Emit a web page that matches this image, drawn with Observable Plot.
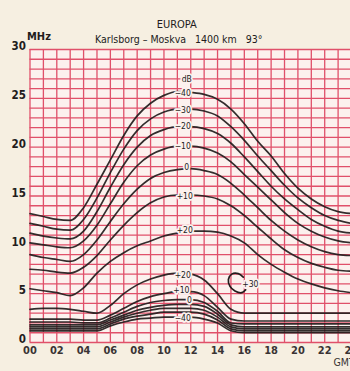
<!DOCTYPE html>
<html>
<head>
<meta charset="utf-8">
<script src="https://cdn.jsdelivr.net/npm/d3@7"></script>
<script src="https://cdn.jsdelivr.net/npm/@observablehq/plot@0.6"></script>
<style>
  html, body { margin: 0; padding: 0; background: #f6efe1; }
  #chart svg { display: block; }
</style>
</head>
<body>
<div id="chart"></div>
<script>
// Hours (GMT)
const hours = [0,1,2,3,4,5,6,7,8,9,10,11,12,13,14,15,16,17,18,19,20,21,22,23,24];

// Upper family (dB labels)
const m40 = [13.2,12.9,12.6,12.5,13.8,16.2,18.7,21.2,23.2,24.5,25.3,25.7,25.6,25.4,24.9,23.9,22.4,20.6,19.1,17.3,15.8,14.7,13.9,13.4,13.2];
const m30 = [12.2,11.9,11.6,11.5,12.6,14.8,17.4,19.8,21.7,22.9,23.6,23.9,23.9,23.7,23.2,22.1,20.7,19.1,17.6,16.1,14.8,13.8,13.0,12.5,12.2];
const m20 = [11.2,10.9,10.7,10.6,11.4,13.4,15.9,18.2,20.0,21.2,21.8,22.1,22.1,21.9,21.4,20.4,19.0,17.5,16.0,14.7,13.6,12.6,11.9,11.4,11.2];
const m10 = [10.2,10.0,9.8,9.7,10.4,12.0,14.2,16.4,18.1,19.2,19.8,20.1,20.1,19.9,19.4,18.5,17.2,15.9,14.6,13.3,12.2,11.4,10.8,10.4,10.2];
const z0  = [9.0,8.7,8.5,8.3,9.0,10.5,12.4,14.2,15.7,16.8,17.4,17.7,17.8,17.6,17.2,16.3,15.1,13.8,12.5,11.4,10.5,9.8,9.3,9.0,8.9];
const p10 = [7.5,7.4,7.2,7.1,7.7,8.9,10.5,12.0,13.3,14.3,14.9,15.1,15.1,15.0,14.7,14.0,13.0,11.8,10.6,9.5,8.7,8.1,7.7,7.4,7.3];
const p20 = [5.5,5.3,5.1,4.8,5.6,7.1,8.3,9.2,9.9,10.4,10.9,11.2,11.4,11.4,11.3,10.9,10.2,9.0,8.0,7.2,6.5,6.0,5.6,5.3,5.1];

// Lower family
const p20L = [3.4,3.5,3.5,3.4,3.2,3.0,3.8,5.0,5.9,6.5,6.9,7.1,7.0,6.4,5.0,3.4,3.0,3.0,3.0,3.0,3.0,3.0,3.0,3.0,3.0];
const p10L = [2.4,2.4,2.4,2.4,2.3,2.3,2.8,3.5,4.2,4.7,5.0,5.2,5.2,4.8,3.6,2.4,2.2,2.2,2.2,2.2,2.2,2.2,2.2,2.2,2.2];
const z0L  = [2.1,2.1,2.1,2.1,2.0,2.0,2.5,3.1,3.7,4.1,4.3,4.4,4.4,4.1,3.2,2.0,1.9,1.9,1.9,1.9,1.9,1.9,1.9,1.9,1.9];
const m10L = [1.8,1.8,1.8,1.8,1.8,1.8,2.3,2.8,3.3,3.6,3.8,3.9,3.9,3.7,2.9,1.8,1.6,1.6,1.6,1.6,1.6,1.6,1.6,1.6,1.6];
const m20L = [1.6,1.6,1.6,1.6,1.6,1.6,2.1,2.6,3.0,3.3,3.5,3.5,3.5,3.3,2.6,1.6,1.4,1.4,1.4,1.4,1.4,1.4,1.4,1.4,1.4];
const m30L = [1.4,1.4,1.4,1.4,1.4,1.4,1.9,2.4,2.7,2.9,3.1,3.1,3.1,2.9,2.3,1.4,1.2,1.2,1.2,1.2,1.2,1.2,1.2,1.2,1.2];
const m40L = [1.2,1.2,1.2,1.2,1.2,1.2,1.7,2.1,2.4,2.5,2.6,2.6,2.6,2.4,2.0,1.2,1.0,1.0,1.0,1.0,1.0,1.0,1.0,1.0,1.0];

// +30 dB contour
const loopH = [15.92,15.55,15.06,14.81,14.93,15.30,15.80,16.10];
const loopF = [6.70,7.05,7.00,6.45,5.75,5.28,5.10,5.40];

// Curve labels
const labelText = ["dB","\u221240","\u221230","\u221220","\u221210","0","+10","+20","+20","+10","0","\u221240","+30"];
const labelH    = [11.7,11.4,11.4,11.4,11.4,11.7,11.55,11.55,11.4,11.3,11.9,11.4,16.45];
const labelF    = [27.0,25.5,23.8,22.1,20.1,17.9,15.0,11.5,6.9,5.35,4.3,2.45,6.0];

// Axis ticks and grid
const xTicks = [0,2,4,6,8,10,12,14,16,18,20,22,24];
const yTicks = [0,5,10,15,20,25,30];
const gridH = hours;
const gridF = [0,1,2,3,4,5,6,7,8,9,10,11,12,13,14,15,16,17,18,19,20,21,22,23,24,25,26,27,28,29,30];

const title = "EUROPA";
const subtitle = "Karlsborg \u2013 Moskva   1400 km   93\u00b0";

const series = [
  ["m40", m40], ["m30", m30], ["m20", m20], ["m10", m10], ["z0", z0], ["p10", p10], ["p20", p20],
  ["p20L", p20L], ["p10L", p10L], ["z0L", z0L], ["m10L", m10L], ["m20L", m20L], ["m30L", m30L], ["m40L", m40L]
];
const lines = series.flatMap(([id, vals]) => vals.map((f, i) => ({id, h: hours[i], f})));
const loop = loopH.map((h, i) => ({h, f: loopF[i]}));
const labels = labelText.map((t, i) => ({t, h: labelH[i], f: labelF[i]}));

const cell = "#fcf1ee";
const gridColor = "#e0506a";
const ink = "#221c1c";
const font = "'DejaVu Sans Condensed', 'DejaVu Sans', sans-serif";

const chart = Plot.plot({
  width: 350,
  height: 371,
  marginLeft: 29.5,
  marginRight: -1,
  marginTop: 49,
  marginBottom: 29,
  style: {background: "#f6efe1", fontFamily: font, color: ink},
  x: {domain: [0, 24], axis: null, label: null},
  y: {domain: [0, 30], axis: null, label: null},
  marks: [
    Plot.frame({fill: cell, stroke: null}),
    Plot.ruleX(gridH, {stroke: gridColor, strokeWidth: 1.3}),
    Plot.ruleY(gridF, {stroke: gridColor, strokeWidth: 1.3}),
    Plot.axisX(xTicks, {label: null, tickSize: 0, tickPadding: 4, tickFormat: d => String(d).padStart(2, "0"),
      fontSize: 11, fill: "#3a3434", fontWeight: "bold"}),
    Plot.axisY(yTicks, {label: null, tickSize: 0, tickPadding: 4, dy: -3, fontSize: 11.5, fontWeight: "bold", fill: ink}),
    Plot.line(lines, {x: "h", y: "f", z: "id", curve: "monotone-x", stroke: ink, strokeWidth: 1.7, strokeOpacity: 0.92}),
    Plot.line(loop, {x: "h", y: "f", curve: "catmull-rom", stroke: ink, strokeWidth: 1.7}),
    Plot.text(labels, {x: "h", y: "f", text: "t", fontSize: 8.5, fill: ink, stroke: cell, strokeWidth: 3.5}),
    Plot.text([title], {frameAnchor: "top", dx: -14, dy: -29, fontSize: 11, fill: ink}),
    Plot.text([subtitle], {frameAnchor: "top", dx: -12, dy: -14, fontSize: 10.5, fill: ink}),
    Plot.text(["MHz"], {frameAnchor: "top-left", dx: -3, dy: -17, fontSize: 11, fontWeight: "bold", fill: ink}),
    Plot.text(["GMT"], {frameAnchor: "bottom-right", textAnchor: "start", dx: -18, dy: 23.5, fontSize: 10.5, fill: "#3a3434"})
  ]
});
document.getElementById("chart").appendChild(chart);
</script>
</body>
</html>
